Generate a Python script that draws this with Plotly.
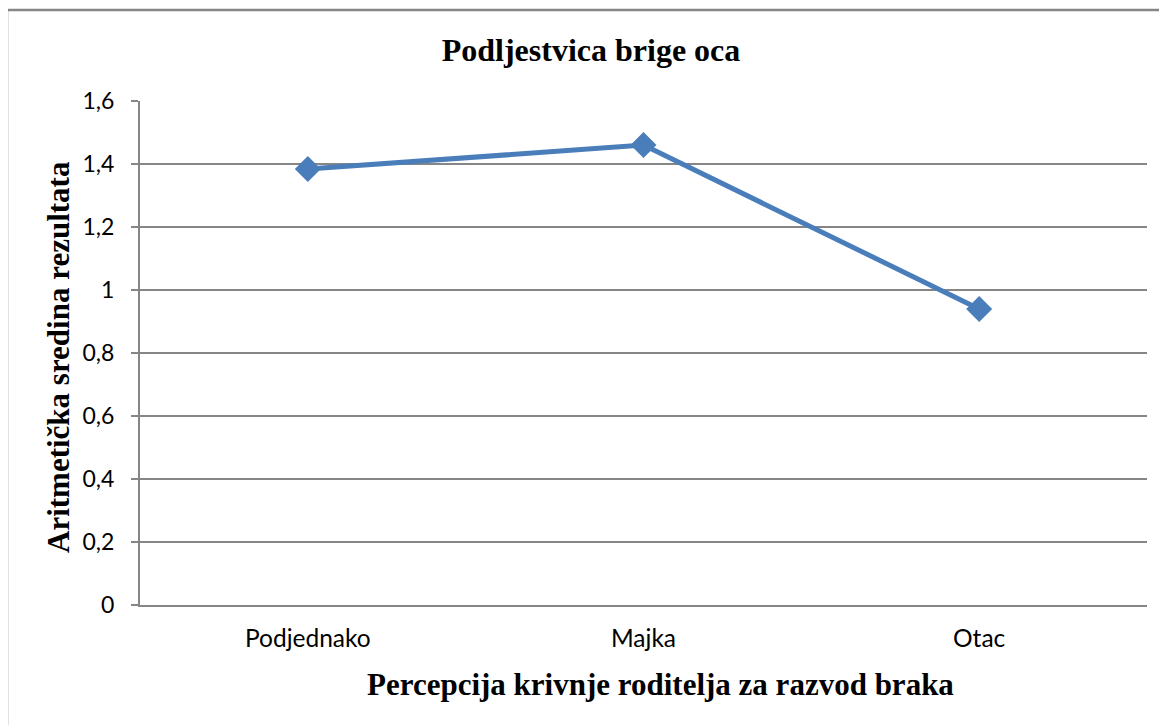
import plotly.graph_objects as go

categories = ["Podjednako", "Majka", "Otac"]
values = [1.384, 1.46, 0.94]
y_ticks = [0, 0.2, 0.4, 0.6, 0.8, 1, 1.2, 1.4, 1.6]
y_tick_labels = ["0", "0,2", "0,4", "0,6", "0,8", "1", "1,2", "1,4", "1,6"]

fig = go.Figure()
fig.add_trace(go.Scatter(
    x=categories, y=values, mode="lines+markers",
    line=dict(color="#4A7EBB", width=5),
    marker=dict(symbol="diamond", size=20, color="#4A7EBB"),
    showlegend=False, cliponaxis=False,
))

# page body has an 8px margin, so the figure is drawn 8px in from the corner
W, H = 1159, 717
PW, PH = 1007, 504
fig.update_layout(
    width=W, height=H,
    margin=dict(l=132, r=20, t=93, b=120),
    paper_bgcolor="white", plot_bgcolor="white",
    title=dict(text="<b>Podljestvica brige oca</b>", x=583 / W, xanchor="center",
               y=1 - 42 / H, yanchor="middle",
               font=dict(family="Liberation Serif", size=32, color="black")),
    xaxis=dict(
        type="category", range=[-0.5, 2.5],
        showgrid=False, showline=True, linecolor="#868686", linewidth=2,
        ticks="", tickfont=dict(family="Lato", size=24.5, color="black"),
        ticklabelstandoff=11,
    ),
    yaxis=dict(
        range=[0, 1.6], tickvals=y_ticks, ticktext=y_tick_labels,
        showgrid=True, gridcolor="#868686", gridwidth=1.7,
        showline=True, linecolor="#868686", linewidth=2,
        ticks="outside", ticklen=7, tickcolor="#868686", tickwidth=1.7,
        tickfont=dict(family="Lato", size=23, color="black"),
        ticklabelstandoff=12,
        zeroline=False,
    ),
    shapes=[dict(type="rect", xref="paper", yref="paper",
                 x0=-133 / PW, x1=1.1, y0=-0.4, y1=1 + 91 / PH,
                 line=dict(color="#868686", width=2.5), fillcolor="rgba(0,0,0,0)")],
    annotations=[
        dict(text="<b>Percepcija krivnje roditelja za razvod braka</b>",
             xref="paper", yref="paper", x=(660 - 140) / PW, y=-(685 - 605) / PH,
             xanchor="center", yanchor="middle", showarrow=False,
             font=dict(family="Liberation Serif", size=31, color="black")),
        dict(text="<b>Aritmetička sredina rezultata</b>",
             xref="paper", yref="paper", x=-(140 - 58) / PW, y=(605 - 357) / PH,
             xanchor="center", yanchor="middle", showarrow=False, textangle=-90,
             font=dict(family="Liberation Serif", size=31, color="black")),
    ],
)

fig.write_html("out.html")
